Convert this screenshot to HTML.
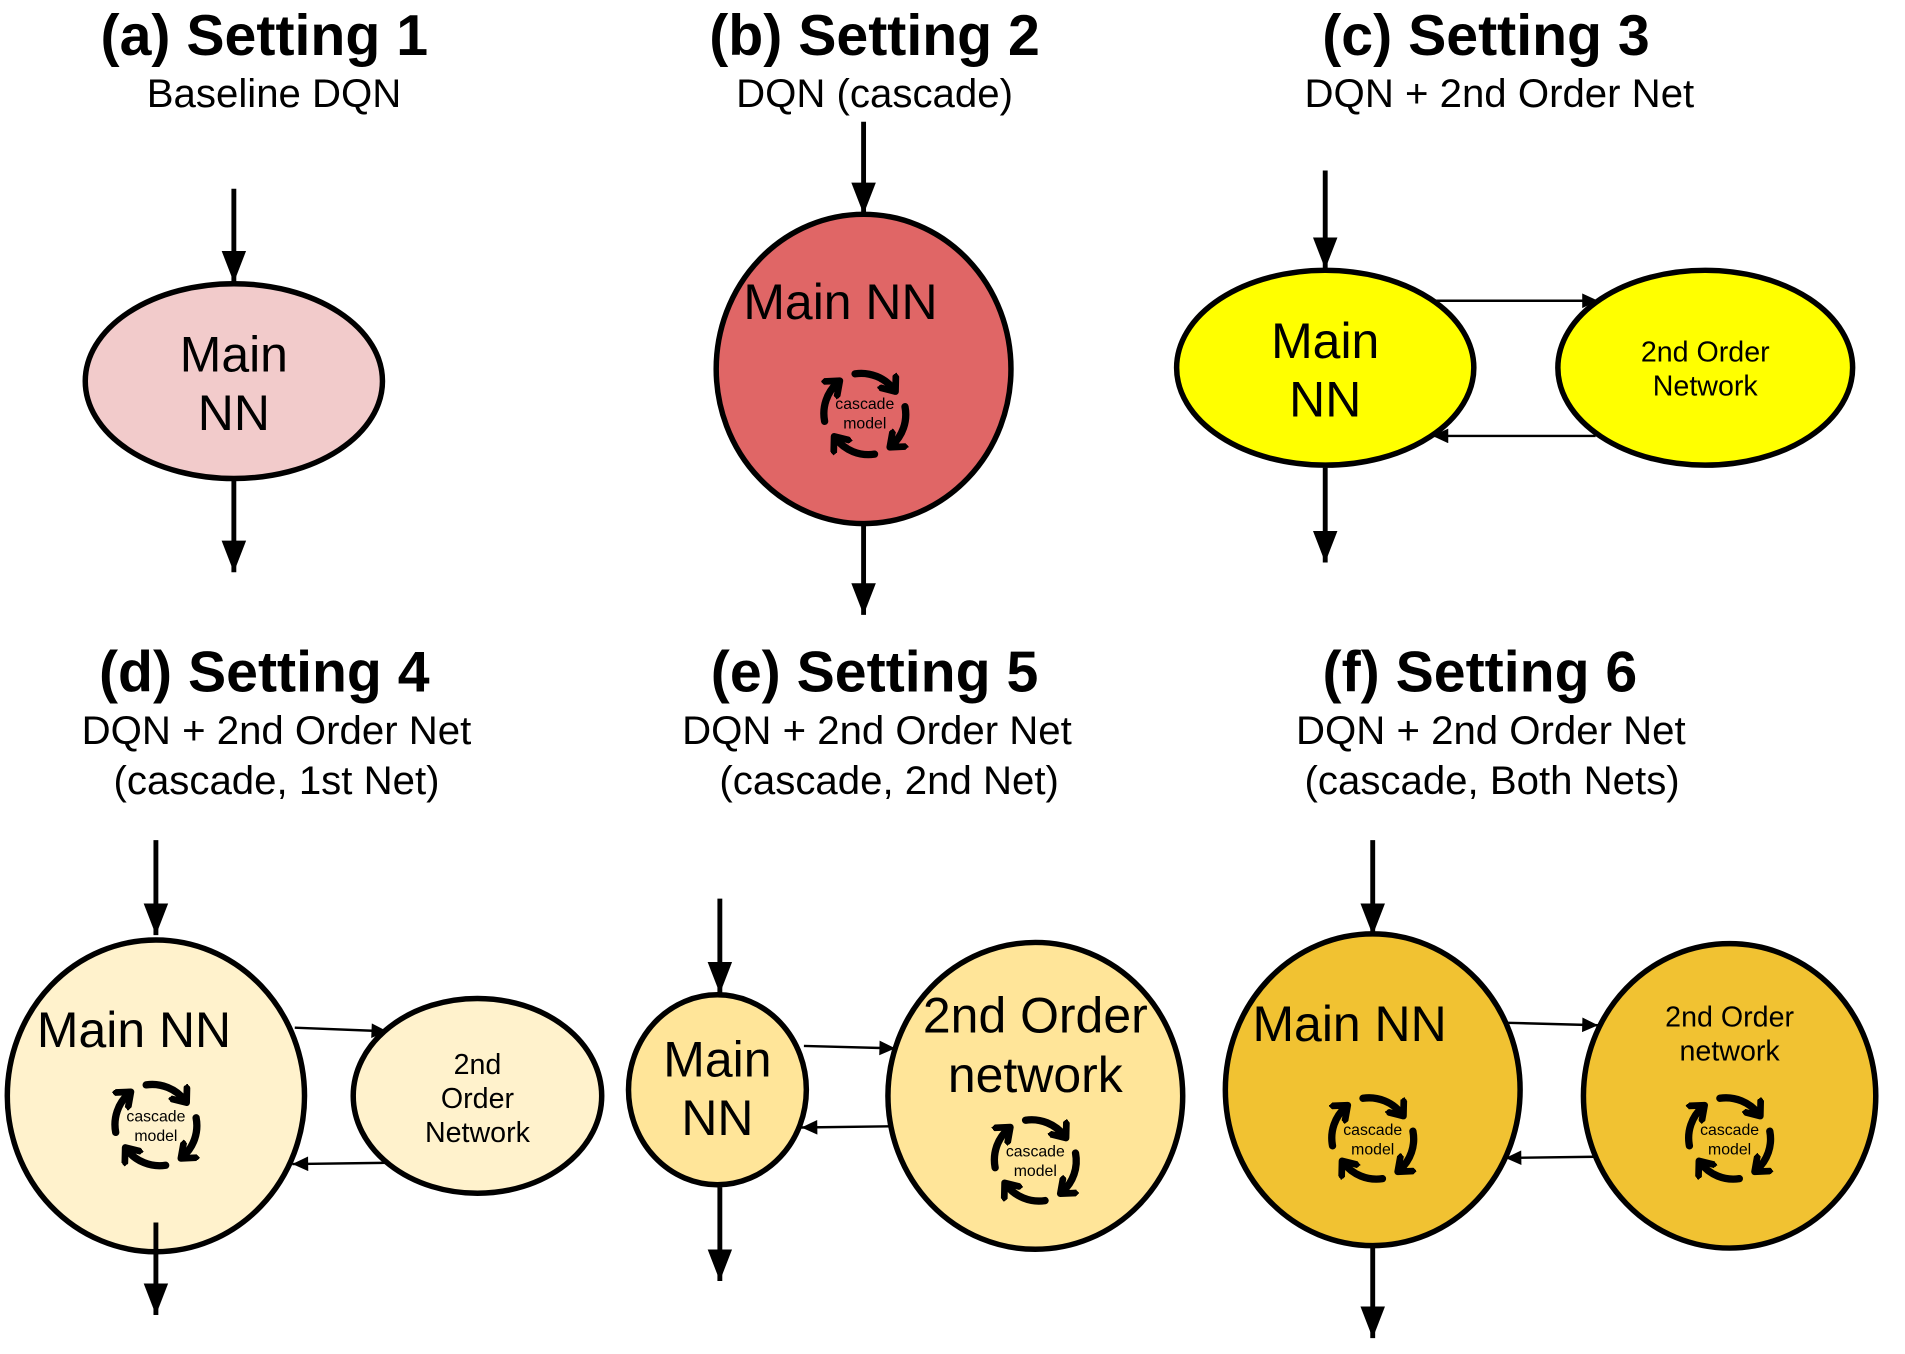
<!DOCTYPE html>
<html><head><meta charset="utf-8"><style>
html,body{margin:0;padding:0;background:#fff;}
svg{display:block;}
text{font-family:"Liberation Sans",Arial,sans-serif;fill:#000;text-anchor:middle;}
.t{font-size:47px;font-weight:bold;}
.s{font-size:33px;}
.b{font-size:41px;}
.m{font-size:23.5px;}
.c{font-size:13px;}
.e{stroke:#000;stroke-width:4.5;}
.a{stroke:#000;stroke-width:4;fill:none;}
.a2{stroke:#000;stroke-width:2;fill:none;}
</style></head><body>
<svg width="1905" height="1354" viewBox="0 0 1564 1112" preserveAspectRatio="none" xmlns="http://www.w3.org/2000/svg">
<defs>
<marker id="ah" markerUnits="userSpaceOnUse" markerWidth="26" markerHeight="34" refX="31" refY="12" viewBox="0 0 31 24" orient="auto">
<path d="M0,0 L31,12 L0,24 Z" fill="#000"/></marker>
<marker id="sh" markerUnits="userSpaceOnUse" markerWidth="14" markerHeight="12" refX="13" refY="6" viewBox="0 0 13 12" orient="auto">
<path d="M0,0 L13,6 L0,12 Z" fill="#000"/></marker>
<marker id="ch" markerUnits="userSpaceOnUse" markerWidth="20" markerHeight="20" refX="10" refY="10" viewBox="0 0 20 20" orient="auto">
<path d="M2,2 L12,10 L2,18" fill="none" stroke="#000" stroke-width="5.5" stroke-linecap="round" stroke-linejoin="round"/></marker>
<g id="cas">
<path d="M-8,-33 A34,34 0 0 1 24,-20" fill="none" stroke="#000" stroke-width="6" stroke-linecap="round" marker-end="url(#ch)"/>
<path d="M33,-6 A34,34 0 0 1 22,26" fill="none" stroke="#000" stroke-width="6" stroke-linecap="round" marker-end="url(#ch)"/>
<path d="M8,33 A34,34 0 0 1 -24,20" fill="none" stroke="#000" stroke-width="6" stroke-linecap="round" marker-end="url(#ch)"/>
<path d="M-33,6 A34,34 0 0 1 -22,-26" fill="none" stroke="#000" stroke-width="6" stroke-linecap="round" marker-end="url(#ch)"/>
</g>
</defs>

<!-- (a) -->
<text class="t" x="217" y="45">(a) Setting 1</text>
<text class="s" x="225" y="88">Baseline DQN</text>
<ellipse class="e" cx="192" cy="313" rx="122" ry="80" fill="#f2cbcb"/>
<text class="b" x="192" y="305">Main</text><text class="b" x="192" y="353">NN</text>
<line class="a" x1="192" y1="155" x2="192" y2="232" marker-end="url(#ah)"/>
<line class="a" x1="192" y1="394" x2="192" y2="470" marker-end="url(#ah)"/>

<!-- (b) -->
<text class="t" x="718" y="45">(b) Setting 2</text>
<text class="s" x="718" y="88">DQN (cascade)</text>
<ellipse class="e" cx="709" cy="303" rx="121" ry="127" fill="#e06666"/>
<text class="b" x="690" y="262">Main NN</text>
<use href="#cas" x="710" y="340"/>
<text class="c" x="710" y="336">cascade</text><text class="c" x="710" y="352">model</text>
<line class="a" x1="709" y1="100" x2="709" y2="176" marker-end="url(#ah)"/>
<line class="a" x1="709" y1="431" x2="709" y2="505" marker-end="url(#ah)"/>

<!-- (c) -->
<text class="t" x="1220" y="45">(c) Setting 3</text>
<text class="s" x="1231" y="88">DQN + 2nd Order Net</text>
<ellipse class="e" cx="1088" cy="302" rx="122" ry="80" fill="#ffff00"/>
<ellipse class="e" cx="1400" cy="302" rx="121" ry="80" fill="#ffff00"/>
<text class="b" x="1088" y="294">Main</text><text class="b" x="1088" y="342">NN</text>
<text class="m" x="1400" y="297">2nd Order</text><text class="m" x="1400" y="325">Network</text>
<line class="a2" x1="1178" y1="247" x2="1312" y2="247" marker-end="url(#sh)"/>
<line class="a2" x1="1310" y1="358" x2="1176" y2="358" marker-end="url(#sh)"/>
<line class="a" x1="1088" y1="140" x2="1088" y2="221" marker-end="url(#ah)"/>
<line class="a" x1="1088" y1="384" x2="1088" y2="462" marker-end="url(#ah)"/>

<!-- (d) -->
<text class="t" x="217" y="568">(d) Setting 4</text>
<text class="s" x="227" y="611">DQN + 2nd Order Net</text>
<text class="s" x="227" y="652">(cascade, 1st Net)</text>
<ellipse class="e" cx="128" cy="900" rx="122" ry="128" fill="#fff2cc"/>
<ellipse class="e" cx="392" cy="900" rx="102" ry="80" fill="#fff2cc"/>
<text class="b" x="110" y="860">Main NN</text>
<use href="#cas" x="128" y="924"/>
<text class="c" x="128" y="921">cascade</text><text class="c" x="128" y="937">model</text>
<text class="m" x="392" y="882">2nd</text><text class="m" x="392" y="910">Order</text><text class="m" x="392" y="938">Network</text>
<line class="a2" x1="242" y1="844" x2="318" y2="847" marker-end="url(#sh)"/>
<line class="a2" x1="316" y1="955" x2="240" y2="956" marker-end="url(#sh)"/>
<line class="a" x1="128" y1="690" x2="128" y2="768" marker-end="url(#ah)"/>
<line class="a" x1="128" y1="1004" x2="128" y2="1080" marker-end="url(#ah)"/>

<!-- (e) -->
<text class="t" x="718" y="568">(e) Setting 5</text>
<text class="s" x="720" y="611">DQN + 2nd Order Net</text>
<text class="s" x="730" y="652">(cascade, 2nd Net)</text>
<ellipse class="e" cx="589" cy="895" rx="73" ry="78" fill="#ffe599"/>
<ellipse class="e" cx="850" cy="900" rx="121" ry="126" fill="#ffe599"/>
<text class="b" x="589" y="884">Main</text><text class="b" x="589" y="932">NN</text>
<text class="b" x="850" y="848">2nd Order</text><text class="b" x="850" y="897">network</text>
<use href="#cas" x="850" y="953"/>
<text class="c" x="850" y="950">cascade</text><text class="c" x="850" y="966">model</text>
<line class="a2" x1="660" y1="859" x2="735" y2="861" marker-end="url(#sh)"/>
<line class="a2" x1="733" y1="925" x2="658" y2="926" marker-end="url(#sh)"/>
<line class="a" x1="591" y1="738" x2="591" y2="816" marker-end="url(#ah)"/>
<line class="a" x1="591" y1="975" x2="591" y2="1052" marker-end="url(#ah)"/>

<!-- (f) -->
<text class="t" x="1215" y="568">(f) Setting 6</text>
<text class="s" x="1224" y="611">DQN + 2nd Order Net</text>
<text class="s" x="1225" y="652">(cascade, Both Nets)</text>
<ellipse class="e" cx="1127" cy="895" rx="121" ry="128" fill="#f1c232"/>
<ellipse class="e" cx="1420" cy="900" rx="120" ry="125" fill="#f1c232"/>
<text class="b" x="1108" y="855">Main NN</text>
<use href="#cas" x="1127" y="935"/>
<text class="c" x="1127" y="932">cascade</text><text class="c" x="1127" y="948">model</text>
<text class="m" x="1420" y="843">2nd Order</text><text class="m" x="1420" y="871">network</text>
<use href="#cas" x="1420" y="935"/>
<text class="c" x="1420" y="932">cascade</text><text class="c" x="1420" y="948">model</text>
<line class="a2" x1="1238" y1="840" x2="1312" y2="842" marker-end="url(#sh)"/>
<line class="a2" x1="1310" y1="950" x2="1236" y2="951" marker-end="url(#sh)"/>
<line class="a" x1="1127" y1="690" x2="1127" y2="768" marker-end="url(#ah)"/>
<line class="a" x1="1127" y1="1024" x2="1127" y2="1099" marker-end="url(#ah)"/>
</svg>
</body></html>
